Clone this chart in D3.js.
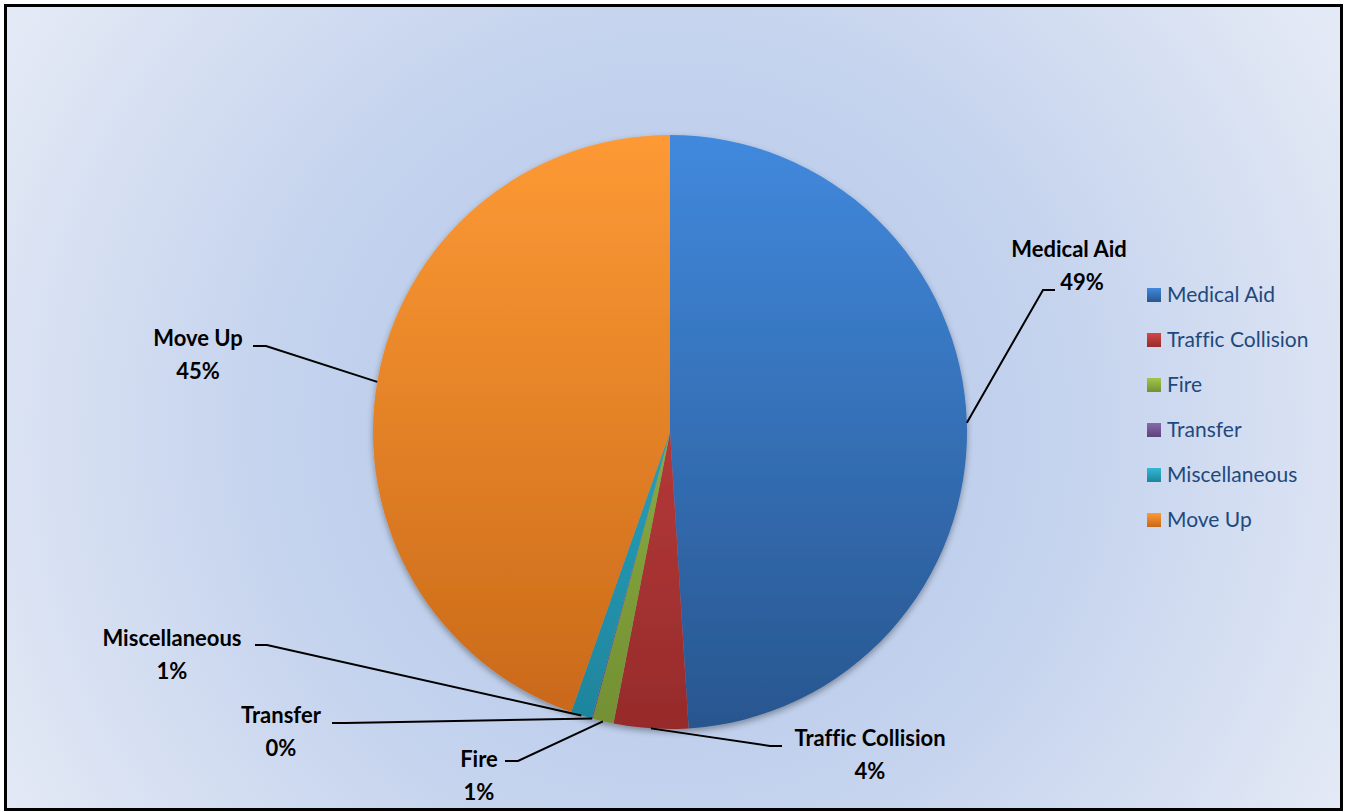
<!DOCTYPE html>
<html>
<head>
<meta charset="utf-8">
<script src="https://cdn.jsdelivr.net/npm/d3@7"></script>
<style>
  html, body { margin: 0; padding: 0; background: #fff; }
  svg text { font-family: Lato, "Open Sans", sans-serif; font-variant-ligatures: none; }
</style>
</head>
<body>
<script>
// categories and values (percent of responses)
var categories = ["Medical Aid", "Traffic Collision", "Fire", "Transfer", "Miscellaneous", "Move Up"];
var values = [49.0, 4.05, 1.15, 0.05, 1.15, 44.6];
// light (top) / dark (bottom) shades for each slice
var lightColors = ["#4189dd", "#d44646", "#9fc74c", "#8868ad", "#31b8d6", "#fd9a35"];
var darkColors  = ["#28568f", "#962b2b", "#738f33", "#5c437a", "#1e849c", "#c86818"];

// where each callout label sits: [text centre x, name baseline y, elbow x, elbow y, line end x, percent offset x]
var labelPos = [
  [1069, 257, 1043, 290, 1055, 13],
  [870, 746, 770, 746, 782, 0],
  [479, 767, 518, 761, 505, 0],
  [281, 723, 345, 723, 332, 0],
  [172, 646, 267, 645, 255, 0],
  [198, 346, 266, 346, 253, 0]
];

var w = 1345, h = 812;
var cx = 670, cy = 432, r = 297;

var svg = d3.select("body").append("svg")
  .attr("width", w).attr("height", h);

var defs = svg.append("defs");

// chart background
var bg = defs.append("radialGradient").attr("id", "bg")
  .attr("gradientUnits", "userSpaceOnUse")
  .attr("cx", cx).attr("cy", cy).attr("r", 760);
bg.append("stop").attr("offset", "0%").attr("stop-color", "#b0c5e9");
bg.append("stop").attr("offset", "55%").attr("stop-color", "#c6d4ee");
bg.append("stop").attr("offset", "100%").attr("stop-color", "#e3e9f5");

categories.forEach(function(c, i) {
  // slice gradient, in the pie group's own coordinates
  var g = defs.append("linearGradient").attr("id", "g" + i)
    .attr("gradientUnits", "userSpaceOnUse")
    .attr("x1", 0).attr("y1", -r).attr("x2", 0).attr("y2", r);
  g.append("stop").attr("offset", "0%").attr("stop-color", lightColors[i]);
  g.append("stop").attr("offset", "100%").attr("stop-color", darkColors[i]);
  var lg = defs.append("linearGradient").attr("id", "lg" + i)
    .attr("x1", 0).attr("y1", 0).attr("x2", 0).attr("y2", 1);
  lg.append("stop").attr("offset", "0%").attr("stop-color", lightColors[i]);
  lg.append("stop").attr("offset", "100%").attr("stop-color", darkColors[i]);
});

var shadow = defs.append("filter").attr("id", "shadow")
  .attr("x", "-10%").attr("y", "-10%").attr("width", "120%").attr("height", "120%");
shadow.append("feDropShadow").attr("dx", 0).attr("dy", 3).attr("stdDeviation", 3)
  .attr("flood-color", "#000").attr("flood-opacity", 0.35);

svg.append("rect")
  .attr("x", 5.5).attr("y", 5.5).attr("width", w - 9).attr("height", h - 8)
  .attr("fill", "url(#bg)").attr("stroke", "#000").attr("stroke-width", 3);

var data = categories.map(function(c, i) { return { name: c, value: values[i], i: i }; });

var pie = d3.pie().sort(null).value(function(d) { return d.value; });
var arcs = pie(data);
var arc = d3.arc().innerRadius(0).outerRadius(r);

var pieG = svg.append("g").attr("transform", "translate(" + cx + "," + cy + ")")
  .attr("filter", "url(#shadow)");
pieG.selectAll("path").data(arcs).enter().append("path")
  .attr("d", arc)
  .attr("fill", function(d) { return "url(#g" + d.data.i + ")"; });

// leader lines + labels
var lines = svg.append("g");
arcs.forEach(function(a, i) {
  var mid = (a.startAngle + a.endAngle) / 2;
  var sx = cx + r * Math.sin(mid), sy = cy - r * Math.cos(mid);
  var p = labelPos[i];
  lines.append("polyline")
    .attr("points", [[sx, sy], [p[2], p[3]], [p[4], p[3]]].map(function(q) { return q.join(","); }).join(" "))
    .attr("fill", "none").attr("stroke", "#000").attr("stroke-width", 2);
  var t = svg.append("text")
    .attr("text-anchor", "middle")
    .attr("font-weight", "bold").attr("font-size", 22).attr("fill", "#000");
  t.append("tspan").attr("x", p[0]).attr("y", p[1]).text(a.data.name);
  t.append("tspan").attr("x", p[0] + p[5]).attr("y", p[1] + 33).text(Math.round(a.data.value) + "%");
});

// legend
var legendY = d3.scaleBand().domain(categories).range([280, 550]);
var legend = svg.append("g");
var items = legend.selectAll("g").data(categories).enter().append("g")
  .attr("transform", function(d) { return "translate(1147," + (legendY(d) + 8) + ")"; });
items.append("rect").attr("width", 14).attr("height", 14)
  .attr("fill", function(d, i) { return "url(#lg" + i + ")"; });
items.append("text").attr("x", 20).attr("y", 14)
  .attr("font-size", 21).attr("fill", "#1f497d")
  .text(function(d) { return d; });
</script>
</body>
</html>
